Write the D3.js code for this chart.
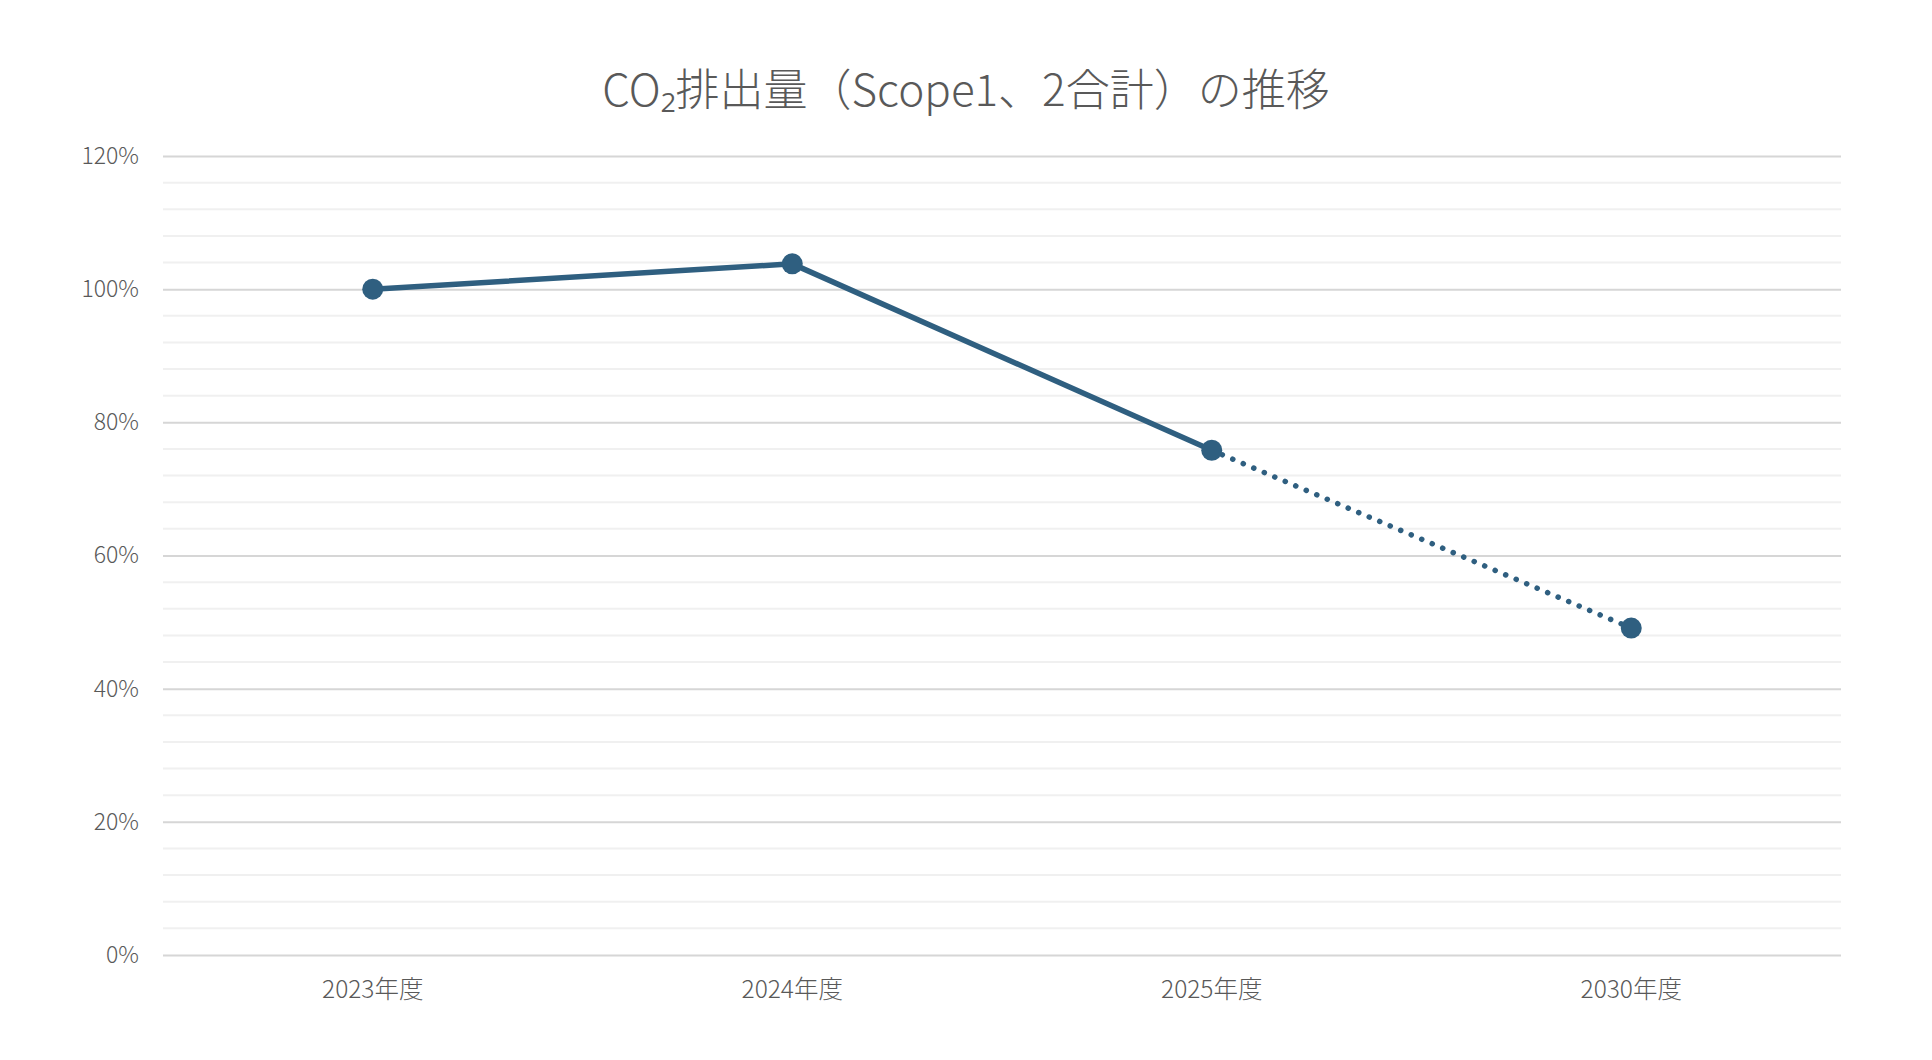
<!DOCTYPE html>
<html>
<head>
<meta charset="utf-8">
<script src="https://cdn.jsdelivr.net/npm/d3@7"></script>
<style>
  html, body { margin: 0; padding: 0; background: #ffffff; }
  svg { display: block; }
  text { font-family: "Noto Sans CJK JP", "Noto Sans", sans-serif; fill: #595959; font-weight: 300; }
</style>
</head>
<body>
<svg id="chart" width="1932" height="1060"></svg>
<script>
const titleText = "CO₂排出量（Scope1、2合計）の推移";
const categories = ["2023年度", "2024年度", "2025年度", "2030年度"];
const values = [100, 103.8, 75.8, 49.1];
const isTarget = [false, false, false, true];
const majorTicks = [0, 20, 40, 60, 80, 100, 120];
const minorTicks = [4, 8, 12, 16, 24, 28, 32, 36, 44, 48, 52, 56, 64, 68, 72, 76, 84, 88, 92, 96, 104, 108, 112, 116];

const W = 1932, H = 1060;
const margin = { left: 163, right: 91, top: 156, bottom: 105 };
const svg = d3.select("#chart");

const x = d3.scaleBand().domain(categories).range([margin.left, W - margin.right]).padding(0);
const y = d3.scaleLinear().domain([0, 120]).range([H - margin.bottom, margin.top]);
const cx = c => x(c) + x.bandwidth() / 2;

// minor gridlines
svg.append("g").selectAll("line").data(minorTicks).join("line")
  .attr("x1", margin.left).attr("x2", W - margin.right)
  .attr("y1", d => y(d)).attr("y2", d => y(d))
  .attr("stroke", "#f0f0f0").attr("stroke-width", 2);

// major gridlines + y labels via axis
const yAxis = d3.axisLeft(y).tickValues(majorTicks).tickFormat(d => d + "%")
  .tickSize(-(W - margin.left - margin.right)).tickPadding(24);
const gy = svg.append("g").attr("transform", `translate(${margin.left},0)`).call(yAxis);
gy.select(".domain").remove();
gy.selectAll(".tick line").attr("stroke", "#d6d6d6").attr("stroke-width", 2);
gy.selectAll(".tick text").attr("font-size", 23).style("fill", "#595959")
  .attr("font-family", "'Noto Sans CJK JP', sans-serif").attr("font-weight", 300);

// x labels via axis
const xAxis = d3.axisBottom(x).tickSize(0).tickPadding(26);
const gx = svg.append("g").attr("transform", `translate(0,${y(0)})`).call(xAxis);
gx.select(".domain").remove();
gx.selectAll(".tick text").attr("font-size", 24.5).style("fill", "#595959")
  .attr("font-family", "'Noto Sans CJK JP', sans-serif").attr("font-weight", 300);

const pts = categories.map((c, i) => ({ c, v: values[i], t: isTarget[i] }));
const line = d3.line().x(d => cx(d.c)).y(d => y(d.v));
const color = "#2F5F80";

// actual solid line
const actual = pts.filter(d => !d.t);
svg.append("path").datum(actual).attr("d", line)
  .attr("fill", "none").attr("stroke", color).attr("stroke-width", 5.5)
  .attr("stroke-linejoin", "round");

// projected dotted line
const lastActual = actual[actual.length - 1];
const projected = [lastActual].concat(pts.filter(d => d.t));
svg.append("path").datum(projected).attr("d", line)
  .attr("fill", "none").attr("stroke", color).attr("stroke-width", 5.5)
  .attr("stroke-linecap", "round").attr("stroke-dasharray", "0.1 11.3");

// markers
svg.append("g").selectAll("circle").data(pts).join("circle")
  .attr("cx", d => cx(d.c)).attr("cy", d => y(d.v)).attr("r", 10.5)
  .attr("fill", color);

// title
svg.append("text").attr("x", W / 2).attr("y", 87)
  .attr("text-anchor", "middle").attr("dominant-baseline", "central")
  .attr("font-size", 44).attr("font-weight", 300).text(titleText);
</script>
</body>
</html>
